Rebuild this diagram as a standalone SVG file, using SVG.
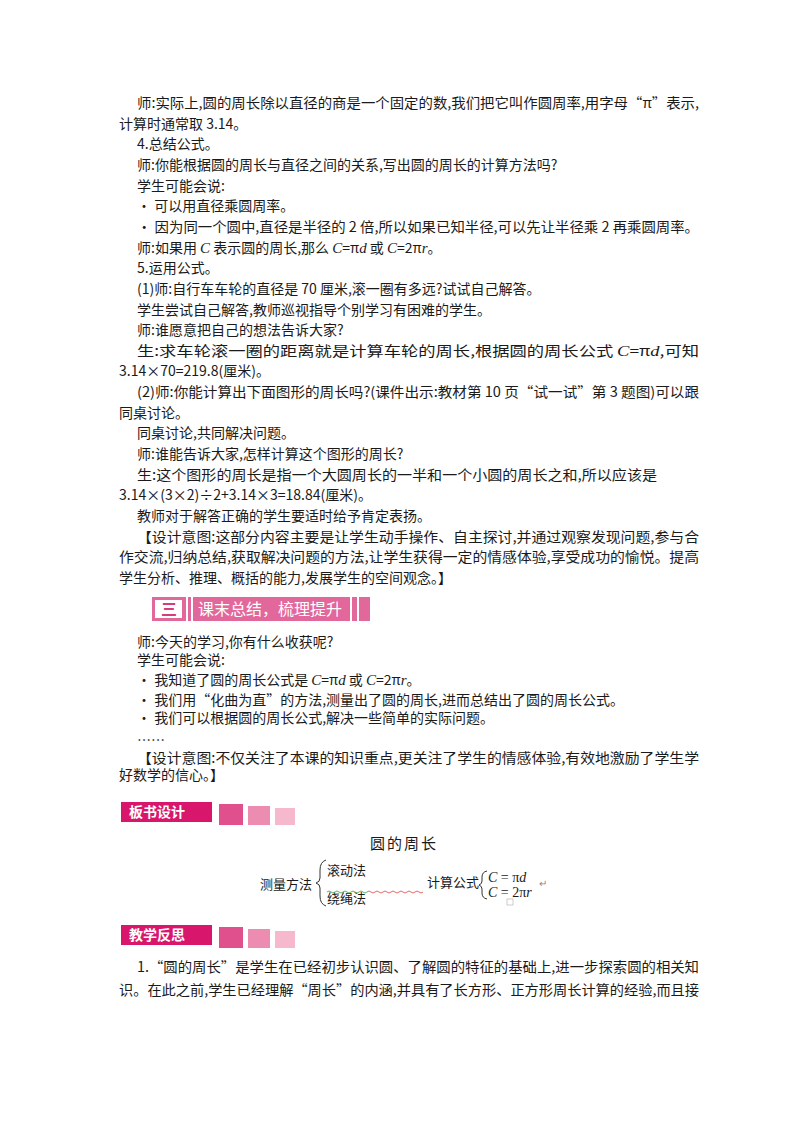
<svg xmlns="http://www.w3.org/2000/svg" width="800" height="1132" viewBox="0 0 800 1132">
<style>
text{font-family:"Noto Sans CJK SC","Liberation Sans",sans-serif;font-size:14px;fill:#1a1a1a}
.i{font-family:"Liberation Serif","Noto Sans CJK SC",serif;font-style:italic;font-size:15px}
.bt{font-size:14px;font-weight:bold;fill:#fff}
</style>
<rect width="800" height="1132" fill="#fff"/>
<g id="body1">
<text x="137" y="108" textLength="562" lengthAdjust="spacingAndGlyphs">师:实际上,圆的周长除以直径的商是一个固定的数,我们把它叫作圆周率,用字母“π”表示,</text>
<text x="119" y="129">计算时通常取 3.14。</text>
<text x="137" y="149">4.总结公式。</text>
<text x="137" y="170">师:你能根据圆的周长与直径之间的关系,写出圆的周长的计算方法吗?</text>
<text x="137" y="191">学生可能会说:</text>
<text x="137" y="211">• 可以用直径乘圆周率。</text>
<text x="137" y="232" textLength="562" lengthAdjust="spacingAndGlyphs">• 因为同一个圆中,直径是半径的 2 倍,所以如果已知半径,可以先让半径乘 2 再乘圆周率。</text>
<text x="137" y="253">师:如果用 <tspan class="i">C</tspan> 表示圆的周长,那么 <tspan class="i">C</tspan>=π<tspan class="i">d</tspan> 或 <tspan class="i">C</tspan>=2π<tspan class="i">r</tspan>。</text>
<text x="137" y="273">5.运用公式。</text>
<text x="137" y="294">(1)师:自行车车轮的直径是 70 厘米,滚一圈有多远?试试自己解答。</text>
<text x="137" y="315">学生尝试自己解答,教师巡视指导个别学习有困难的学生。</text>
<text x="137" y="335">师:谁愿意把自己的想法告诉大家?</text>
<text x="137" y="356" textLength="562" lengthAdjust="spacingAndGlyphs">生:求车轮滚一圈的距离就是计算车轮的周长,根据圆的周长公式 <tspan class="i">C</tspan>=π<tspan class="i">d</tspan>,可知</text>
<text x="119" y="376">3.14×70=219.8(厘米)。</text>
<text x="137" y="397" textLength="562" lengthAdjust="spacingAndGlyphs">(2)师:你能计算出下面图形的周长吗?(课件出示:教材第 10 页“试一试”第 3 题图)可以跟</text>
<text x="119" y="418">同桌讨论。</text>
<text x="137" y="438">同桌讨论,共同解决问题。</text>
<text x="137" y="459">师:谁能告诉大家,怎样计算这个图形的周长?</text>
<text x="137" y="480" textLength="520" lengthAdjust="spacingAndGlyphs">生:这个图形的周长是指一个大圆周长的一半和一个小圆的周长之和,所以应该是</text>
<text x="119" y="500">3.14×(3×2)÷2+3.14×3=18.84(厘米)。</text>
<text x="137" y="521">教师对于解答正确的学生要适时给予肯定表扬。</text>
<text x="137" y="542" textLength="562" lengthAdjust="spacingAndGlyphs">【设计意图:这部分内容主要是让学生动手操作、自主探讨,并通过观察发现问题,参与合</text>
<text x="119" y="562" textLength="580" lengthAdjust="spacingAndGlyphs">作交流,归纳总结,获取解决问题的方法,让学生获得一定的情感体验,享受成功的愉悦。提高</text>
<text x="119" y="583">学生分析、推理、概括的能力,发展学生的空间观念。】</text>
</g>
<g id="sec3">
<rect x="152" y="597" width="218" height="24" fill="#e2679a"/>
<rect x="155" y="600" width="27" height="18" fill="#fff"/>
<text x="161" y="615" style="fill:#d43c7a;font-size:16px;font-weight:bold">三</text>
<rect x="186" y="597" width="2" height="24" fill="#fff"/>
<rect x="191" y="597" width="2" height="24" fill="#fff"/>
<text x="198" y="615" style="fill:#fff;font-size:16px">课末总结，梳理提升</text>
<rect x="350" y="597" width="2" height="24" fill="#fff"/>
<rect x="357" y="597" width="2" height="24" fill="#fff"/>
</g>
<g id="body2">
<text x="137" y="647">师:今天的学习,你有什么收获呢?</text>
<text x="137" y="665">学生可能会说:</text>
<text x="137" y="685">• 我知道了圆的周长公式是 <tspan class="i">C</tspan>=π<tspan class="i">d</tspan> 或 <tspan class="i">C</tspan>=2π<tspan class="i">r</tspan>。</text>
<text x="137" y="705">• 我们用“化曲为直”的方法,测量出了圆的周长,进而总结出了圆的周长公式。</text>
<text x="137" y="723">• 我们可以根据圆的周长公式,解决一些简单的实际问题。</text>
<text x="137" y="745">……</text>
<text x="137" y="763" textLength="562" lengthAdjust="spacingAndGlyphs">【设计意图:不仅关注了本课的知识重点,更关注了学生的情感体验,有效地激励了学生学</text>
<text x="119" y="780">好数学的信心。】</text>
</g>
<g id="banner1">
<rect x="121" y="802" width="91" height="20" fill="#d8176c"/>
<text class="bt" x="129" y="817">板书设计</text>
<rect x="219" y="804" width="24" height="21" fill="#e0508c"/>
<rect x="248" y="806" width="22" height="19" fill="#ec8cb0"/>
<rect x="275" y="808" width="20" height="17" fill="#f5b8cc"/>
</g>
<g id="board">
<text x="370" y="849" style="font-size:15px;letter-spacing:2px">圆的周长</text>
<text x="260" y="889" style="font-size:13px">测量方法</text>
<path d="M326 860 Q320 862 320 870 L320 878 Q320 882 316 883 Q320 884 320 888 L320 896 Q320 904 326 906" fill="none" stroke="#333" stroke-width="1"/>
<text x="327" y="875" style="font-size:13px">滚动法</text>
<text x="327" y="903" style="font-size:13px">绕绳法</text>
<path d="M327 892 q2 -2 4 0 t4 0 t4 0 t4 0 t4 0 t4 0 t4 0 t4 0 t4 0 t4 0" fill="none" stroke="#3a9a3a" stroke-width="0.8"/>
<path d="M367 892 q2 -2 4 0 t4 0 t4 0 t4 0 t4 0 t4 0 t4 0 t4 0 t4 0 t4 0 t4 0 t4 0 t4 0 t4 0" fill="none" stroke="#e04040" stroke-width="0.8"/>
<text x="427" y="887" style="font-size:13px">计算公式</text>
<path d="M487 871 Q482 872 482 877 L482 881 Q482 884 479 885 Q482 886 482 889 L482 893 Q482 898 487 899" fill="none" stroke="#333" stroke-width="1"/>
<text x="488" y="882" style="font-family:'Liberation Serif',serif;font-size:14px"><tspan font-style="italic">C</tspan> = π<tspan font-style="italic">d</tspan></text>
<text x="488" y="897" style="font-family:'Liberation Serif',serif;font-size:14px"><tspan font-style="italic">C</tspan> = 2π<tspan font-style="italic">r</tspan></text>
<text x="539" y="887" style="font-size:10px;fill:#888">↵</text>
<rect x="507" y="899" width="6" height="6" fill="none" stroke="#aaa" stroke-width="0.6"/>
</g>
<g id="banner2">
<rect x="121" y="925" width="91" height="20" fill="#d8176c"/>
<text class="bt" x="129" y="940">教学反思</text>
<rect x="219" y="927" width="24" height="21" fill="#e0508c"/>
<rect x="248" y="929" width="22" height="19" fill="#ec8cb0"/>
<rect x="275" y="931" width="20" height="17" fill="#f5b8cc"/>
</g>
<g id="body3">
<text x="137" y="972" textLength="562" lengthAdjust="spacingAndGlyphs">1.“圆的周长”是学生在已经初步认识圆、了解圆的特征的基础上,进一步探索圆的相关知</text>
<text x="119" y="995" textLength="580" lengthAdjust="spacingAndGlyphs">识。在此之前,学生已经理解“周长”的内涵,并具有了长方形、正方形周长计算的经验,而且接</text>
</g>
</svg>
